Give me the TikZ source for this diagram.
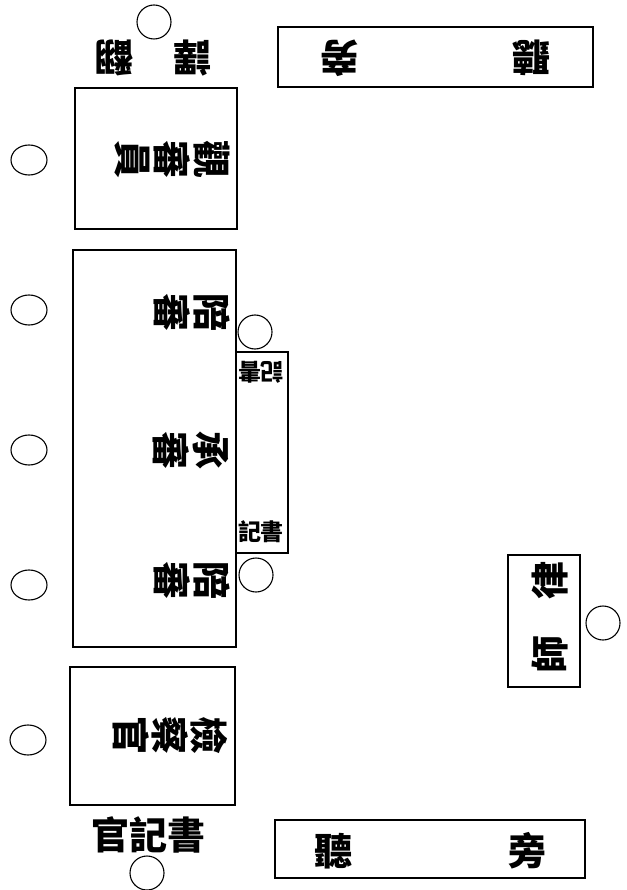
\documentclass[tikz,border=0pt]{standalone}
\usepackage{fontspec}
\newfontfamily\cjk{Noto Sans CJK TC}
\tikzset{
  box/.style={draw, line width=1.2pt},
  seat/.style={draw, line width=1.1pt},
  big/.style={font=\cjk\bfseries\fontsize{38}{38}\selectfont, inner sep=0pt},
  small/.style={font=\cjk\bfseries\fontsize{23}{23}\selectfont, inner sep=0pt},
  cw/.style={rotate=-90},
  ccw/.style={rotate=90},
  flip/.style={rotate=180}
}
\begin{document}
\begin{tikzpicture}[x=1pt,y=-1pt]
\useasboundingbox (0,0) rectangle (626,890);
% boxes
\draw[box] (75,88) rectangle (237,229);
\draw[box] (278,27) rectangle (593,87);
\draw[box] (73,250) rectangle (236,647);
\draw[box] (236,352) rectangle (288,553);
\draw[box] (508,555) rectangle (580,687);
\draw[box] (70,667) rectangle (235,805);
\draw[box] (275,820) rectangle (585,878);
% seats
\draw[seat] (154,22) circle (17);
\draw[seat] (29,160) ellipse (18 and 15);
\draw[seat] (29,310) ellipse (18 and 15);
\draw[seat] (29,450) ellipse (18 and 15);
\draw[seat] (29,585) ellipse (18 and 15);
\draw[seat] (28,740) ellipse (18 and 15);
\draw[seat] (255,332) circle (17);
\draw[seat] (256,575) circle (17);
\draw[seat] (603,623) circle (17);
\draw[seat] (147,873) circle (17);
% interpreter label (upside down)
\node[big,flip] (tr1) at (114,58) {翻};
\node[big,flip] (tr2) at (192,58) {譯};
% upper gallery (upside down)
\node[big,flip] (pt1) at (339,58) {旁};
\node[big,flip] (pt2) at (531,58) {聽};
% observer
\node[big,cw] (g1) at (212,160) {觀};
\node[big,cw] (g2) at (172,160) {審};
\node[big,cw] (g3) at (132,160) {員};
% bench
\node[big,cw] (a1) at (212,312) {陪};
\node[big,cw] (a2) at (172,312) {審};
\node[big,cw] (c1) at (211,450) {承};
\node[big,cw] (c2) at (171,450) {審};
\node[big,cw] (b1) at (212,580) {陪};
\node[big,cw] (b2) at (172,580) {審};
% clerks
\node[small,flip] (k1) at (250,372) {書};
\node[small,flip] (k2) at (272,372) {記};
\node[small] (m1) at (250,532) {記};
\node[small] (m2) at (272,532) {書};
% lawyer
\node[big,ccw] (l1) at (550,580) {律};
\node[big,ccw] (l2) at (550,654) {師};
% prosecutor
\node[big,cw] (p1) at (209,735) {檢};
\node[big,cw] (p2) at (170,735) {察};
\node[big,cw] (p3) at (131,735) {官};
% clerk officer
\node[big] (s1) at (110,835) {官};
\node[big] (s2) at (148,835) {記};
\node[big] (s3) at (186,835) {書};
% lower gallery
\node[big] (q1) at (333,851) {聽};
\node[big] (q2) at (527,851) {旁};
\end{tikzpicture}
\end{document}
